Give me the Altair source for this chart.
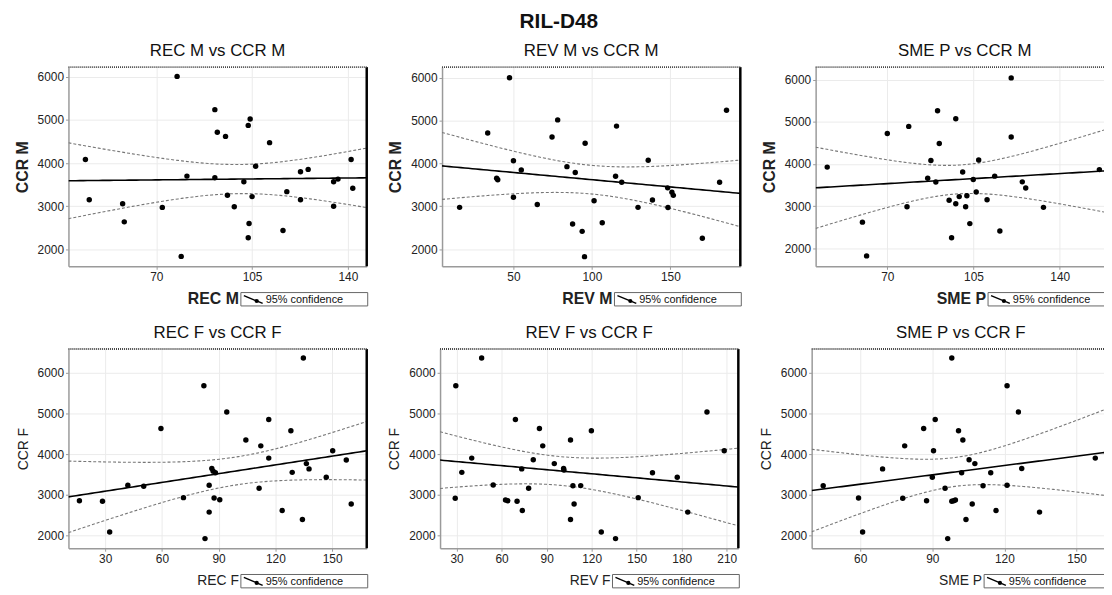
import altair as alt
import numpy as np
import pandas as pd

FONT = "Liberation Sans"

# ---------------- data ----------------
# Panel 1: REC M vs CCR M
rec_m = [44.1, 45.5, 57.7, 58.3, 72.2, 77.6, 79.1, 81.2, 91.4, 91.4, 92.3, 95.3, 96.0, 98.5, 102.0, 103.6,
         103.9, 103.6, 104.3, 105.0, 106.3, 111.4, 116.3, 117.7, 122.7, 122.7, 125.5, 134.8, 136.4, 134.8, 141.2, 141.8]
ccr_m_rec = [4085, 3150, 3060, 2640, 2975, 6010, 1840, 3700, 5240, 3660, 4715, 4620, 3255, 2990, 3570, 4875,
             2600, 2270, 5025, 3225, 3930, 4475, 2440, 3340, 3800, 3150, 3855, 3570, 3630, 3000, 4085, 3420]

# Panel 2: REV M vs CCR M
rev_m = [15.7, 33.6, 39.3, 40.0, 47.5, 50.0, 50.0, 55.0, 65.2, 74.6, 78.2, 84.1, 87.7, 89.4, 93.8, 95.7,
         95.3, 101.4, 106.6, 115.1, 115.7, 119.0, 129.4, 135.9, 138.6, 148.3, 148.5, 151.0, 151.9, 170.4, 181.4, 185.8]
ccr_m_rev = [2975, 4710, 3655, 3620, 6000, 4060, 3210, 3845, 3040, 4615, 5015, 3925, 2585, 3790, 2415, 4470,
             1825, 3130, 2615, 3700, 4870, 3560, 2975, 4075, 3145, 3430, 2970, 3330, 3255, 2255, 3560, 5240]

# Panel 3: SME P vs CCR M
sme_p_m = [45.6, 59.9, 61.6, 70.0, 78.0, 78.7, 86.4, 87.7, 89.7, 90.4, 91.1, 95.1, 96.1, 97.8, 97.8, 99.2,
           100.6, 101.8, 102.3, 103.5, 104.9, 106.1, 107.1, 110.5, 113.6, 115.7, 120.3, 120.3, 124.8, 126.2, 133.4, 156.1]
ccr_m_sme = [3925, 2620, 1820, 4720, 2985, 4890, 3660, 4080, 3570, 5260, 4485, 3140, 2250, 5070, 3055, 3225,
             3810, 2985, 3245, 2585, 3630, 3335, 4095, 3150, 3710, 2410, 6040, 4640, 3575, 3430, 2970, 3865]

# Panel 4: REC F vs CCR F
rec_f = [16.4, 28.6, 32.4, 42.0, 50.4, 59.5, 71.4, 82.2, 82.8, 85.0, 85.0, 86.4, 87.1, 87.6, 88.3, 90.6, 94.3,
         104.4, 111.4, 112.3, 116.5, 116.5, 123.6, 128.2, 128.9, 134.3, 134.8, 136.4, 137.8, 146.9, 150.3, 157.5, 160.1]
ccr_f_rec = [2860, 2845, 2090, 3240, 3215, 4630, 2935, 5680, 1930, 3240, 2580, 3650, 3585, 2925, 3545, 2885, 5035,
             4350, 3165, 4205, 4850, 3905, 2620, 4575, 3555, 2400, 6360, 3770, 3640, 3435, 4085, 3860, 2780]

# Panel 5: REV F vs CCR F
rev_f = [29.5, 29.1, 33.5, 40.1, 46.7, 54.4, 62.6, 64.1, 69.2, 70.3, 73.4, 73.8, 78.0, 81.1, 85.2, 87.4, 95.1,
         101.3, 101.5, 105.9, 105.9, 107.5, 108.3, 112.7, 119.8, 126.4, 135.9, 151.0, 160.5, 177.0, 184.0, 196.8, 208.3]
ccr_f_rev = [5680, 2920, 3555, 3905, 6360, 3245, 2875, 2860, 4850, 2845, 3640, 2620, 3165, 3865, 4630, 4205, 3770,
             3650, 3610, 4350, 2400, 3225, 2780, 3230, 4575, 2090, 1930, 2935, 3545, 3435, 2580, 5035, 4085]

# Panel 6: SME P vs CCR F
sme_p_f = [44.6, 59.3, 61.0, 69.3, 77.7, 78.5, 86.4, 87.6, 90.0, 90.5, 91.2, 95.3, 96.4, 98.1, 98.1, 98.9, 99.6,
           100.9, 102.2, 102.7, 104.0, 105.3, 106.6, 107.7, 111.1, 114.3, 116.5, 121.1, 121.1, 125.8, 127.2, 134.6, 157.8]
ccr_f_sme = [3225, 2925, 2090, 3640, 2920, 4205, 4630, 2860, 3435, 4085, 4850, 3165, 1930, 6360, 2845, 2860, 2875,
             4575, 3545, 4350, 2400, 3865, 2780, 3770, 3225, 3545, 2620, 5680, 3240, 5035, 3650, 2580, 3905]

titles = ["REC M vs CCR M", "REV M vs CCR M", "SME P vs CCR M",
          "REC F vs CCR F", "REV F vs CCR F", "SME P vs CCR F"]
x_names = ["REC M", "REV M", "SME P", "REC F", "REV F", "SME P"]
y_names = ["CCR M", "CCR M", "CCR M", "CCR F", "CCR F", "CCR F"]
x_domains = [[37.9, 146.9], [4.5, 194.6], [40.9, 162.0], [10.6, 168.3], [19.0, 217.7], [39.8, 163.9]]
y_domains = [[1610, 6225], [1600, 6246], [1573, 6295], [1694, 6580], [1694, 6580], [1694, 6580]]
x_ticks = [[70, 105, 140], [50, 100, 150], [70, 105, 140],
           [30, 60, 90, 120, 150], [30, 60, 90, 120, 150, 180, 210], [60, 90, 120, 150]]
y_ticks = [2000, 3000, 4000, 5000, 6000]
legend_text = "95% confidence"
t95 = {30: 2.042, 31: 2.040}

W, H = 301, 201
one = pd.DataFrame({"a": [0]})


def panel(i, xs, ys):
    top = i < 3
    xa = np.array(xs, float)
    ya = np.array(ys, float)
    n = len(xa)
    b, a = np.polyfit(xa, ya, 1)
    s = np.sqrt(((ya - (a + b * xa)) ** 2).sum() / (n - 2))
    sxx = ((xa - xa.mean()) ** 2).sum()
    gx = np.linspace(x_domains[i][0], x_domains[i][1], 80)
    fit = a + b * gx
    half = t95[n - 2] * s * np.sqrt(1.0 / n + (gx - xa.mean()) ** 2 / sxx)
    fit_df = pd.DataFrame({"x": gx, "y": fit})
    ci_df = pd.concat([pd.DataFrame({"x": gx, "y": fit + half, "k": "hi"}),
                       pd.DataFrame({"x": gx, "y": fit - half, "k": "lo"})])
    pts = pd.DataFrame({"x": xs, "y": ys})

    xs_ = alt.Scale(domain=x_domains[i], nice=False, zero=False)
    ys_ = alt.Scale(domain=y_domains[i], nice=False, zero=False)
    xax = alt.Axis(values=x_ticks[i], title=None, grid=True, gridColor="#ebebeb", format="d",
                   domainColor="#9a9a9a", domainWidth=1.5, tickColor="#9a9a9a", tickSize=3,
                   labelFontSize=12, labelColor="#222", labelPadding=2, labelFont=FONT)
    yax = alt.Axis(values=y_ticks, title=y_names[i], grid=True, gridColor="#ebebeb", format="d",
                   domainColor="#9a9a9a", domainWidth=1.5, tickColor="#9a9a9a", tickSize=3,
                   labelFontSize=12, labelColor="#222", labelPadding=2, labelFont=FONT,
                   titleFont=FONT, titleFontSize=16 if top else 14,
                   titleFontWeight="bold" if top else "normal", titleColor="#222", titlePadding=7)
    X = alt.X("x:Q", scale=xs_, axis=xax)
    Y = alt.Y("y:Q", scale=ys_, axis=yax)

    ci = alt.Chart(ci_df).mark_line(color="#777", strokeWidth=1.1, strokeDash=[3, 2], clip=True).encode(
        x=X, y=Y, detail="k:N")
    line = alt.Chart(fit_df).mark_line(color="black", strokeWidth=1.6, clip=True).encode(x=X, y=Y)
    dots = alt.Chart(pts).mark_circle(size=30, color="black", opacity=1).encode(x=X, y=Y)
    right = alt.Chart(one).mark_rule(color="black", strokeWidth=2.5).encode(
        x=alt.value(W), y=alt.value(0), y2=alt.value(H))
    topr = alt.Chart(one).mark_rule(color="#444", strokeWidth=2, strokeDash=[1, 1]).encode(
        x=alt.value(0), x2=alt.value(W), y=alt.value(0))
    bx = 174
    box = alt.Chart(one).mark_rect(fill="white", stroke="#666", strokeWidth=1).encode(
        x=alt.value(bx), x2=alt.value(W + 1), y=alt.value(H + 26.5), y2=alt.value(H + 40))
    icon = alt.Chart(one).mark_rule(color="black", strokeWidth=1.4).encode(
        x=alt.value(bx + 3), x2=alt.value(bx + 22), y=alt.value(H + 29.5), y2=alt.value(H + 37.5))
    icon_dot = alt.Chart(one).mark_circle(size=18, color="black", opacity=1).encode(
        x=alt.value(bx + 16), y=alt.value(H + 35))
    ltxt = alt.Chart(one).mark_text(text=legend_text, align="left", baseline="middle", fontSize=11,
                                    font=FONT, color="#111").encode(
        x=alt.value(bx + 25), y=alt.value(H + 34))
    xlab = alt.Chart(one).mark_text(text=x_names[i], align="right", baseline="middle",
                                    fontSize=16 if top else 14,
                                    fontWeight="bold" if top else "normal",
                                    font=FONT, color="#222").encode(
        x=alt.value(bx - 2), y=alt.value(H + 33))
    return alt.layer(ci, line, dots, right, topr, box, icon, icon_dot, ltxt, xlab).properties(
        width=W, height=H,
        title=alt.TitleParams(text=titles[i], fontSize=17, font=FONT, fontWeight="normal",
                              anchor="middle", offset=6, color="#111"))


xs_all = [rec_m, rev_m, sme_p_m, rec_f, rev_f, sme_p_f]
ys_all = [ccr_m_rec, ccr_m_rev, ccr_m_sme, ccr_f_rec, ccr_f_rev, ccr_f_sme]
panels = [panel(i, xs_all[i], ys_all[i]) for i in range(6)]

row1 = alt.hconcat(*panels[:3], spacing=19)
row2 = alt.hconcat(*panels[3:], spacing=19)
chart = alt.vconcat(row1, row2, spacing=16.5).properties(
    title=alt.TitleParams(text="RIL-D48", fontSize=21, font=FONT, fontWeight="bold",
                          anchor="middle", offset=10.5, color="#111", dx=-6),
    padding={"left": 6, "top": 0, "right": -12, "bottom": 0},
    background="white",
).configure_view(stroke=None)

chart.save("out.html", embed_options={"renderer": "svg", "actions": False})
